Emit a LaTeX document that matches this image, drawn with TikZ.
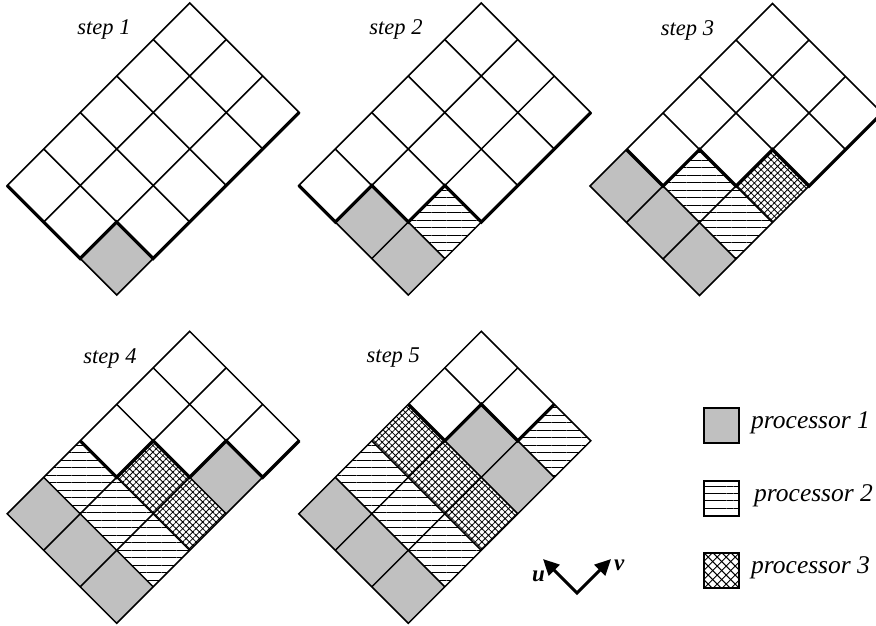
\documentclass[tikz,border=0pt]{standalone}
\usepackage{fontspec}
\setmainfont{Liberation Serif}
\usetikzlibrary{patterns.meta,arrows.meta}
\definecolor{procgray}{RGB}{192,192,192}
\begin{document}
\begin{tikzpicture}[x=1pt,y=-1pt,
  gcell/.style={fill=procgray},
  hcell/.style={pattern={Lines[angle=0,distance=7.5pt,line width=0.9pt]}},
  xcell/.style={pattern={Hatch[angle=45,distance=4.7pt,line width=0.8pt]}},
  hleg/.style={pattern={Lines[angle=0,distance=7.3pt,line width=0.9pt]}},
  xline/.style={line width=1pt},
  gridline/.style={line width=1.5pt},
  wave/.style={line width=3.2pt, line join=miter},
  gridscope/.style={x={(-36.5pt,36.5pt)}, y={(36.5pt,36.5pt)}},
  lbl/.style={font=\fontsize{22.5}{24}\selectfont\itshape, anchor=base, inner sep=0pt},
  leg/.style={font=\fontsize{25.5}{28}\selectfont\itshape, anchor=base west, inner sep=0pt},
  legbox/.style={draw, line width=2pt, minimum size=35pt, inner sep=0pt},
  axlbl/.style={font=\fontsize{23}{26}\selectfont\bfseries\itshape, inner sep=0pt},
  axarrow/.style={line width=3pt, line join=miter, {Triangle[length=16pt,width=15pt]}-{Triangle[length=16pt,width=15pt]}}]
\useasboundingbox (0,0) rectangle (876,625);

% ---------- step 1 ----------
\begin{scope}[shift={(116.7,295)}, gridscope]
  \fill[gcell] (0,0) -- ++(1,0) -- ++(0,1) -- ++(-1,0) -- cycle;
  \foreach \i in {1,2} \draw[gridline] (\i,0) -- (\i,5);
  \foreach \j in {1,...,4} \draw[gridline] (0,\j) -- (3,\j);
  \draw[gridline] (0,0) -- (3,0) -- (3,5) -- (0,5) -- cycle;
  \draw[wave] (3,0) -- (1,0) -- (1,1) -- (0,1) -- (0,5);
\end{scope}
\node[lbl] (s1) at (104,34) {step 1};

% ---------- step 2 ----------
\begin{scope}[shift={(408.3,295)}, gridscope]
  \foreach \i/\j in {0/0,1/0} \fill[gcell] (\i,\j) -- ++(1,0) -- ++(0,1) -- ++(-1,0) -- cycle;
  \path[hcell] (0,1) -- ++(1,0) -- ++(0,1) -- ++(-1,0) -- cycle;
  \foreach \i in {1,2} \draw[gridline] (\i,0) -- (\i,5);
  \foreach \j in {1,...,4} \draw[gridline] (0,\j) -- (3,\j);
  \draw[gridline] (0,0) -- (3,0) -- (3,5) -- (0,5) -- cycle;
  \draw[wave] (3,0) -- (2,0) -- (2,1) -- (1,1) -- (1,2) -- (0,2) -- (0,5);
\end{scope}
\node[lbl] (s2) at (396,34) {step 2};

% ---------- step 3 ----------
\begin{scope}[shift={(699.5,295.5)}, gridscope]
  \foreach \i/\j in {0/0,1/0,2/0} \fill[gcell] (\i,\j) -- ++(1,0) -- ++(0,1) -- ++(-1,0) -- cycle;
  \foreach \i/\j in {1/1,0/1} \path[hcell] (\i,\j) -- ++(1,0) -- ++(0,1) -- ++(-1,0) -- cycle;
  \path[xcell] (0,2) -- ++(1,0) -- ++(0,1) -- ++(-1,0) -- cycle;
  \foreach \i in {1,2} \draw[gridline] (\i,0) -- (\i,5);
  \foreach \j in {1,...,4} \draw[gridline] (0,\j) -- (3,\j);
  \draw[gridline] (0,0) -- (3,0) -- (3,5) -- (0,5) -- cycle;
  \draw[wave] (3,1) -- (2,1) -- (2,2) -- (1,2) -- (1,3) -- (0,3) -- (0,5);
\end{scope}
\node[lbl] (s3) at (687.5,35) {step 3};

% ---------- step 4 ----------
\begin{scope}[shift={(116.7,623.3)}, gridscope]
  \foreach \i/\j in {0/0,1/0,2/0,0/3} \fill[gcell] (\i,\j) -- ++(1,0) -- ++(0,1) -- ++(-1,0) -- cycle;
  \foreach \i/\j in {2/1,1/1,0/1} \path[hcell] (\i,\j) -- ++(1,0) -- ++(0,1) -- ++(-1,0) -- cycle;
  \foreach \i/\j in {1/2,0/2} \path[xcell] (\i,\j) -- ++(1,0) -- ++(0,1) -- ++(-1,0) -- cycle;
  \foreach \i in {1,2} \draw[gridline] (\i,0) -- (\i,5);
  \foreach \j in {1,...,4} \draw[gridline] (0,\j) -- (3,\j);
  \draw[gridline] (0,0) -- (3,0) -- (3,5) -- (0,5) -- cycle;
  \draw[wave] (3,2) -- (2,2) -- (2,3) -- (1,3) -- (1,4) -- (0,4) -- (0,5);
\end{scope}
\node[lbl] (s4) at (110,363) {step 4};

% ---------- step 5 ----------
\begin{scope}[shift={(408.3,623.3)}, gridscope]
  \foreach \i/\j in {0/0,1/0,2/0,1/3,0/3} \fill[gcell] (\i,\j) -- ++(1,0) -- ++(0,1) -- ++(-1,0) -- cycle;
  \foreach \i/\j in {2/1,1/1,0/1,0/4} \path[hcell] (\i,\j) -- ++(1,0) -- ++(0,1) -- ++(-1,0) -- cycle;
  \foreach \i/\j in {2/2,1/2,0/2} \path[xcell] (\i,\j) -- ++(1,0) -- ++(0,1) -- ++(-1,0) -- cycle;
  \foreach \i in {1,2} \draw[gridline] (\i,0) -- (\i,5);
  \foreach \j in {1,...,4} \draw[gridline] (0,\j) -- (3,\j);
  \draw[gridline] (0,0) -- (3,0) -- (3,5) -- (0,5) -- cycle;
  \draw[wave] (3,3) -- (2,3) -- (2,4) -- (1,4) -- (1,5);
\end{scope}
\node[lbl] (s5) at (393.3,362) {step 5};

% ---------- legend ----------
\node[legbox, fill=procgray] (k1) at (721.7,425) {};
\node[legbox, hleg] (k2) at (721.7,498) {};
\coordinate (c3) at (721.7,570.5);
\begin{scope}
  \clip ([shift={(-17.5pt,-17.5pt)}]c3) rectangle ([shift={(17.5pt,17.5pt)}]c3);
  \foreach \k in {-4,...,4} {
    \draw[xline] ([xshift=\k*9pt-25pt, yshift=25pt]c3) -- ([xshift=\k*9pt+25pt, yshift=-25pt]c3);
    \draw[xline] ([xshift=\k*9pt-25pt, yshift=-25pt]c3) -- ([xshift=\k*9pt+25pt, yshift=25pt]c3);
  }
\end{scope}
\node[legbox] (k3) at (c3) {};
\node[leg] (t1) at (751,428.3) {processor 1};
\node[leg] (t2) at (754,501.7) {processor 2};
\node[leg] (t3) at (751,573.3) {processor 3};

% ---------- axes ----------
\coordinate (o) at (577,593);
\coordinate (tu) at (543,559);
\coordinate (tv) at (611,559);
\draw[axarrow] (tu) -- (o) -- (tv);
\node[axlbl, anchor=base east] (lu) at (545,581) {u};
\node[axlbl, anchor=base west] (lv) at (614,570) {v};
\end{tikzpicture}
\end{document}
